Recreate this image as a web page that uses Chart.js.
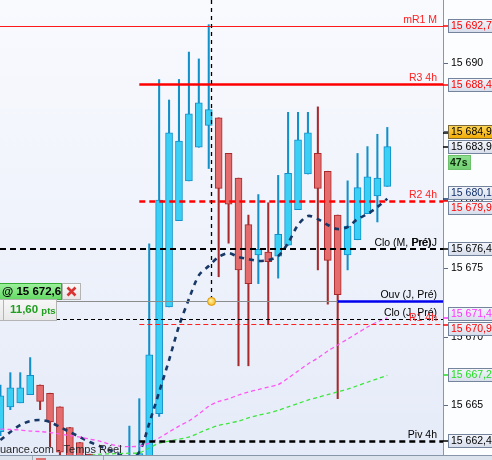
<!DOCTYPE html>
<html>
<head>
<meta charset="utf-8">
<title>Chart</title>
<script src="https://cdn.jsdelivr.net/npm/chart.js@4.4.1/dist/chart.umd.min.js"></script>
<style>
  html, body { margin: 0; padding: 0; background: #fff; overflow: hidden; }
  #chart { display: block; }
</style>
</head>
<body>
<canvas id="chart" width="492" height="460"></canvas>
<script>
// candle slots on the time axis
const slots = [-1, 0, 1, 2, 3, 4, 5, 6, 7, 8, 9, 10, 11, 12, 13, 14, 15, 16, 17, 18, 19,
  20, 21, 22, 23, 24, 25, 26, 27, 28, 29, 30, 31, 32, 33, 34, 35, 36, 37, 38];

const opens = [15663.1, 15664.9, 15665.2, 15665.8, 15666.5, 15665.9, 15664.9, 15663.4, 15662.3, 15661.45,
  15660.6, 15659.8, 15660.4, 15660.0, 15660.5, 15660.8, 15664.4, 15672.2, 15678.5, 15681.4,
  15683.85, 15685.45, 15686.0, 15683.4, 15681.6, 15678.2, 15676.0, 15676.2, 15675.9, 15676.7,
  15679.3, 15681.9, 15683.4, 15682.1, 15678.9, 15676.0, 15677.1, 15679.0, 15680.3, 15681.0];
const highs = [15666.5, 15667.4, 15667.4, 15668.5, 15666.5, 15665.9, 15664.9, 15663.4, 15662.3, 15661.45,
  15661.0, 15660.9, 15661.2, 15663.5, 15665.5, 15676.8, 15688.8, 15687.3, 15688.8, 15690.8,
  15690.3, 15692.8, 15686.0, 15683.4, 15681.6, 15678.9, 15680.4, 15679.8, 15681.8, 15686.4,
  15686.4, 15686.4, 15686.8, 15682.1, 15678.9, 15681.4, 15683.4, 15683.9, 15684.8, 15685.3];
const lows = [15662.8, 15664.7, 15665.2, 15665.8, 15664.7, 15662.0, 15661.2, 15660.5, 15660.0, 15659.5,
  15659.4, 15659.3, 15659.9, 15659.8, 15660.3, 15660.6, 15664.2, 15672.2, 15678.5, 15681.4,
  15683.85, 15682.3, 15674.4, 15676.85, 15667.9, 15667.9, 15673.9, 15670.9, 15674.3, 15676.7,
  15679.3, 15681.9, 15674.9, 15672.4, 15665.5, 15674.9, 15677.1, 15679.0, 15678.4, 15681.0];
const closes = [15665.7, 15666.3, 15666.3, 15667.2, 15665.3, 15663.8, 15661.6, 15661.0, 15660.5, 15660.0,
  15659.8, 15660.5, 15660.9, 15661.0, 15661.5, 15668.7, 15680.0, 15684.9, 15684.3, 15686.3,
  15687.1, 15686.6, 15680.85, 15679.7, 15674.9, 15673.9, 15676.4, 15675.5, 15677.5, 15681.95,
  15684.4, 15684.9, 15680.85, 15675.6, 15673.1, 15678.1, 15680.9, 15681.7, 15681.6, 15683.9];

// moving averages
const maNavy = [15662.48, 15663.07, 15663.58, 15663.87, 15663.94, 15663.80, 15663.43, 15663.07, 15662.70, 15662.34,
  15662.04, 15661.75, 15661.46, 15661.24, 15661.6, 15663.7, 15665.99, 15668.32, 15670.80, 15672.77,
  15674.5, 15675.18, 15675.84, 15676.13, 15675.84, 15675.69, 15675.55, 15675.62, 15675.91, 15676.86,
  15678.18, 15678.83, 15678.61, 15678.18, 15677.88, 15678.03, 15678.61, 15678.98, 15679.49, 15680.1];
const maPink = [15663.28, 15663.25, 15663.21, 15663.14, 15663.1, 15663.03, 15662.92, 15662.81, 15662.70, 15662.55,
  15662.41, 15662.19, 15662.04, 15662.0, 15662.04, 15662.26, 15662.63, 15663.07, 15663.5, 15663.87,
  15664.38, 15664.95, 15665.3, 15665.5, 15665.77, 15665.99, 15666.17, 15666.35, 15666.53, 15667.0,
  15667.52, 15668.03, 15668.47, 15668.98, 15669.42, 15669.85, 15670.29, 15670.73, 15671.1, 15671.4];
const maGreen = [15660.9, 15660.95, 15661.0, 15661.05, 15661.1, 15661.13, 15661.16, 15661.2, 15661.25, 15661.35,
  15661.45, 15661.47, 15661.5, 15661.52, 15661.55, 15661.9, 15662.25, 15662.4, 15662.55, 15662.7,
  15663.0, 15663.3, 15663.55, 15663.7, 15663.87, 15664.1, 15664.3, 15664.45, 15664.65, 15664.9,
  15665.15, 15665.4, 15665.6, 15665.8, 15666.0, 15666.2, 15666.45, 15666.7, 15666.95, 15667.2];

// horizontal levels
const levelNames = ['mR1 M', 'R3 4h', 'R2 4h', 'Clo (M, Pré)', 'Ouv (J, Pré)', 'Clo (J, Pré)', 'R1 4h', 'Piv 4h'];
const levelValues = [15692.7, 15688.4, 15679.9, 15676.4, 15672.6, 15671.3, 15670.9, 15662.4];
const levelFrom = [null, 13, 13, null, 33, null, 13, 13];

// price boxes on the axis
const axisTicks = [15665, 15670, 15675, 15680, 15685, 15690];
const boxValues = [15692.7, 15688.4, 15684.9, 15683.9, 15680.1, 15679.9, 15676.4, 15671.4, 15670.9, 15667.2, 15662.4];

const positionPrice = 15672.6;
const positionPts = '11,60';
const cursorSlot = 20.26;
const countdown = '47s';
const sourceText = 'uance.com - Temps Réel';

// styles
const FONT = '"Liberation Sans", Arial, sans-serif';
const UP = '#3acff5', UP_LINE = '#1290c9', DN = '#e56c6c', DN_LINE = '#a8292b';
const levelColors = ['#ff1a1a', '#ff0000', '#ff0000', '#000000', '#0000ee', '#000000', '#ff2020', '#000000'];
const levelLabelColors = ['#ff2020', '#ff2020', '#ff2020', '#000000', '#000000', '#000000', '#ff2020', '#000000'];
const levelWidths = [1, 2.5, 2.5, 2, 2.5, 1, 1, 2.5];
const levelDashes = [[], [], [6, 4], [6, 4], [], [4, 3], [5, 3], [6, 4]];
const boxColors = ['#ff0000', '#ff0000', '#000000', '#000000', '#10306a', '#ff0000', '#000000', '#ff33ff', '#ff0000', '#22dd22', '#000000'];
const boxTickColors = ['#ff0000', '#ff0000', '#000000', '#000000', '#10306a', '#ff0000', '#000000', '#ff33ff', '#ff0000', '#22dd22', '#000000'];

function frPrice(v, dec) {
  const parts = v.toFixed(dec).split('.');
  const int = parts[0].replace(/\B(?=(\d{3})+(?!\d))/g, ' ');
  return parts.length > 1 ? int + ',' + parts[1] : int;
}

function snap(v, w) {
  return Math.round(w) % 2 === 1 ? Math.floor(v) + 0.5 : Math.round(v);
}

function hline(ctx, x0, x1, y, color, w, dash) {
  ctx.beginPath();
  ctx.setLineDash(dash);
  ctx.strokeStyle = color;
  ctx.lineWidth = w;
  const yy = snap(y, w);
  ctx.moveTo(x0, yy);
  ctx.lineTo(x1, yy);
  ctx.stroke();
  ctx.setLineDash([]);
}

function box(ctx, x, y, w, h, top, bottom, border) {
  const g = ctx.createLinearGradient(0, y, 0, y + h);
  g.addColorStop(0, top);
  g.addColorStop(1, bottom);
  ctx.fillStyle = g;
  ctx.fillRect(x, y, w, h);
  ctx.strokeStyle = border;
  ctx.lineWidth = 1;
  ctx.strokeRect(x + 0.5, y + 0.5, w - 1, h - 1);
}

const isUp = opens.map((o, i) => closes[i] >= o);

const overlay = {
  id: 'overlay',
  beforeDraw(chart) {
    const {ctx, chartArea: a, width, height} = chart;
    ctx.save();
    ctx.fillStyle = '#fcfdff';
    ctx.fillRect(0, 0, width, height);
    const g = ctx.createLinearGradient(0, a.top, 0, a.bottom);
    g.addColorStop(0, '#f9fafe');
    g.addColorStop(1, '#e5ebf8');
    ctx.fillStyle = g;
    ctx.fillRect(a.left, a.top, a.right - a.left, a.bottom - a.top);
    ctx.restore();
  },
  afterDatasetsDraw(chart) {
    const {ctx, chartArea: a, scales: {x, y}} = chart;
    ctx.save();
    ctx.beginPath();
    ctx.rect(a.left, a.top, a.right - a.left, a.bottom - a.top);
    ctx.clip();

    // open position line
    hline(ctx, a.left, a.right, y.getPixelForValue(positionPrice), '#8c8c8c', 1, []);

    levelValues.forEach((v, i) => {
      const x0 = levelFrom[i] === null ? a.left : x.getPixelForValue(levelFrom[i]);
      hline(ctx, x0, a.right, y.getPixelForValue(v), levelColors[i], levelWidths[i], levelDashes[i]);
    });

    ctx.font = '10.5px ' + FONT;
    ctx.textAlign = 'right';
    ctx.textBaseline = 'alphabetic';
    levelNames.forEach((n, i) => {
      const ly = y.getPixelForValue(levelValues[i]);
      ctx.fillStyle = levelLabelColors[i];
      if (i === 3) {
        ctx.fillText(n, a.right - 12, ly - 3.5);
        ctx.fillText('Pré)J', a.right - 6, ly - 3.5);
      } else {
        ctx.fillText(n, a.right - 6, ly - 3.5);
      }
    });

    // crosshair
    const cx = Math.round(x.getPixelForValue(cursorSlot)) + 0.5;
    const cy = y.getPixelForValue(positionPrice);
    ctx.beginPath();
    ctx.setLineDash([4, 4]);
    ctx.strokeStyle = '#000';
    ctx.lineWidth = 1.3;
    ctx.moveTo(cx, a.top);
    ctx.lineTo(cx, cy - 4);
    ctx.stroke();
    ctx.setLineDash([]);
    const rg = ctx.createRadialGradient(cx - 1, cy - 1, 0.5, cx, cy, 4.5);
    rg.addColorStop(0, '#fff2a8');
    rg.addColorStop(1, '#f5b416');
    ctx.beginPath();
    ctx.arc(cx, cy, 4, 0, Math.PI * 2);
    ctx.fillStyle = rg;
    ctx.fill();
    ctx.strokeStyle = '#e09a10';
    ctx.lineWidth = 1;
    ctx.stroke();

    // source text
    ctx.font = '11px ' + FONT;
    ctx.textAlign = 'left';
    ctx.fillStyle = '#262626';
    ctx.fillText(sourceText, 0, 453);
    ctx.restore();
  },
  afterDraw(chart) {
    const {ctx, chartArea: a, scales: {y}, width} = chart;
    ctx.save();

    // position widget
    const py = Math.round(y.getPixelForValue(positionPrice));
    box(ctx, -2, py - 18, 64, 17, '#9df29d', '#62d862', '#34ad34');
    ctx.font = 'bold 11.5px ' + FONT;
    ctx.fillStyle = '#000';
    ctx.textAlign = 'left';
    ctx.textBaseline = 'middle';
    ctx.fillText('@ ' + frPrice(positionPrice, 1), 2, py - 9);
    box(ctx, 62, py - 18, 19, 17, '#fafafa', '#e6e6e6', '#b4b4b4');
    ctx.strokeStyle = '#d93434';
    ctx.lineWidth = 2.6;
    ctx.beginPath();
    ctx.moveTo(67.5, py - 13.5); ctx.lineTo(75.5, py - 5.5);
    ctx.moveTo(75.5, py - 13.5); ctx.lineTo(67.5, py - 5.5);
    ctx.stroke();
    box(ctx, -2, py - 2, 6, 22, '#f6f6f6', '#e8e8e8', '#b4b4b4');
    box(ctx, 3, py - 2, 54, 22, '#f8f8f8', '#e8e8e8', '#b4b4b4');
    ctx.fillStyle = '#1f9e1f';
    ctx.font = 'bold 11.5px ' + FONT;
    ctx.fillText(positionPts, 10, py + 9);
    const pw = ctx.measureText(positionPts + ' ').width;
    ctx.font = 'bold 9.5px ' + FONT;
    ctx.fillText('pts', 10 + pw, py + 10);

    // bottom strip
    ctx.fillStyle = '#dde3ec';
    ctx.fillRect(0, a.bottom, width, 5);
    hline(ctx, 0, width, a.bottom, '#8896aa', 1, []);
    ctx.fillStyle = '#a0a8b5';
    ctx.fillRect(32, a.bottom + 1, 1, 4);
    ctx.fillRect(103, a.bottom + 1, 1, 4);
    ctx.fillStyle = '#e07070';
    ctx.fillRect(36, a.bottom + 3, 10, 2);

    // price boxes on the axis
    const H = 15;
    const items = boxValues.map((v, i) => ({v, i, y: y.getPixelForValue(v)}));
    items.sort((p, q) => p.y - q.y);
    for (let k = 1; k < items.length; k++) {
      if (items[k].y - items[k - 1].y < H) {
        const mid = (items[k].y + items[k - 1].y) / 2;
        items[k - 1].y = mid - H / 2;
        items[k].y = mid + H / 2;
      }
    }
    items.forEach(it => {
      const ty = y.getPixelForValue(it.v);
      hline(ctx, a.right, a.right + 5, ty, boxTickColors[it.i], 1.5, []);
    });
    ctx.font = '10.5px ' + FONT;
    ctx.textAlign = 'left';
    ctx.textBaseline = 'middle';
    items.forEach(it => {
      const top = Math.round(it.y - 7);
      if (it.v === closes[closes.length - 1] + 1) {
        box(ctx, 448, top, 50, 14, '#ffd85a', '#f0a800', '#7d6a3a');
      } else {
        box(ctx, 448, top, 50, 14, '#f5f7fc', '#d5dcea', '#74849c');
      }
      ctx.fillStyle = boxColors[it.i];
      ctx.fillText(frPrice(it.v, 1), 451, top + 7.5);
    });
    const last = items.find(it => it.v === closes[closes.length - 1]);
    const cTop = Math.round(last.y + 8);
    box(ctx, 448, cTop, 23, 15, '#8fe08f', '#6fcf6f', '#6cc06c');
    ctx.fillStyle = '#0a2a0a';
    ctx.font = 'bold 10.5px ' + FONT;
    ctx.fillText(countdown, 450, cTop + 8);
    ctx.restore();
  }
};

new Chart(document.getElementById('chart'), {
  type: 'bar',
  data: {
    datasets: [
      {
        type: 'line', data: slots.map((s, i) => ({x: s, y: maGreen[i]})),
        borderColor: '#3ee63e', borderWidth: 1.3, borderDash: [4, 3], pointRadius: 0, tension: 0.3, order: 0
      },
      {
        type: 'line', data: slots.map((s, i) => ({x: s, y: maPink[i]})),
        borderColor: '#ff55f5', borderWidth: 1.3, borderDash: [4, 3], pointRadius: 0, tension: 0.3, order: 0
      },
      {
        type: 'line', data: slots.map((s, i) => ({x: s, y: maNavy[i]})),
        borderColor: '#173766', borderWidth: 2.6, borderDash: [5, 5], pointRadius: 0, tension: 0.3, order: 0
      },
      {
        data: slots.map((s, i) => ({x: s, y: [lows[i], highs[i]]})),
        backgroundColor: isUp.map(u => u ? UP_LINE : DN_LINE),
        barThickness: 1.4, grouped: false, order: 2
      },
      {
        data: slots.map((s, i) => ({x: s, y: [opens[i], closes[i]]})),
        backgroundColor: isUp.map(u => u ? UP : DN),
        borderColor: isUp.map(u => u ? UP_LINE : DN_LINE),
        borderWidth: 1, borderSkipped: false, barThickness: 7, grouped: false, order: 1
      }
    ]
  },
  options: {
    responsive: false,
    animation: false,
    events: [],
    layout: {padding: {top: 0, bottom: 5, left: 0, right: 0}},
    plugins: {legend: {display: false}, tooltip: {enabled: false}},
    scales: {
      x: {type: 'linear', display: false, offset: false, min: -1.042, max: 43.615},
      y: {
        position: 'right',
        min: 15661.39,
        max: 15694.6,
        afterBuildTicks: s => { s.ticks = axisTicks.map(v => ({value: v})); },
        afterFit: s => { s.width = 49; s.paddingTop = 0; s.paddingBottom = 0; },
        grid: {drawOnChartArea: false, tickLength: 5, tickColor: '#5c6b80', tickWidth: 1},
        border: {color: '#8797ae', width: 1},
        ticks: {
          color: '#000', padding: 3, font: {family: FONT, size: 10.5},
          callback: v => frPrice(v, 0)
        }
      }
    }
  },
  plugins: [overlay]
});
</script>
</body>
</html>
